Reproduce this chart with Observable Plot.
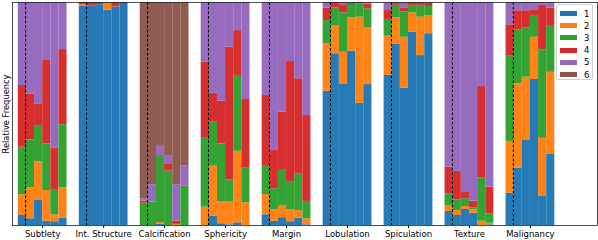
<!DOCTYPE html>
<html>
<head>
<meta charset="utf-8">
<script src="https://cdn.jsdelivr.net/npm/d3@7"></script>
<script src="https://cdn.jsdelivr.net/npm/@observablehq/plot@0.6"></script>
<style>
  html, body { margin: 0; padding: 0; background: #fff; }
  #wrap { position: relative; width: 598px; height: 240px; font-family: "DejaVu Sans", sans-serif; }
  #legend { position: absolute; left: 556px; top: 4px; width: 37px; height: 76px;
    border: 1px solid #d0d0d0; border-radius: 2px; background: rgba(255,255,255,0.85); box-sizing: border-box; }
  .row { position: absolute; left: 3px; height: 12px; display: flex; align-items: center; font-size: 8.5px; color: #000; }
  .sw { width: 17px; height: 5px; margin-right: 7px; }
  #ylab { position: absolute; left: 5.5px; top: 113.5px; transform: translate(-50%, -50%) rotate(-90deg);
    white-space: nowrap; font-size: 8.3px; color: #000; }
</style>
</head>
<body>
<div id="wrap"></div>
<script>
// ---- data ----
const attributes = ["Subtlety", "Int. Structure", "Calcification", "Sphericity", "Margin", "Lobulation", "Spiculation", "Texture", "Malignancy"];
const ratings = ["1", "2", "3", "4", "5", "6"];
const colors = ["#1f77b4", "#ff7f0e", "#2ca02c", "#d62728", "#9467bd", "#8c564b"];
const yLabel = "Relative Frequency";

// each attribute: 6 bars, each bar = relative frequency of ratings 1..6
const subtlety = [
  [0.045, 0.093, 0.213, 0.277, 0.372, 0],
  [0.030, 0.139, 0.215, 0.206, 0.410, 0],
  [0.115, 0.171, 0.162, 0.095, 0.457, 0],
  [0.019, 0.138, 0.209, 0.377, 0.257, 0],
  [0.017, 0.031, 0.113, 0.187, 0.652, 0],
  [0.033, 0.136, 0.283, 0.337, 0.211, 0]
];
const intStructure = [
  [0.985, 0.005, 0, 0.010, 0, 0],
  [0.985, 0, 0, 0.015, 0, 0],
  [0.990, 0, 0, 0.010, 0, 0],
  [0.965, 0.030, 0.005, 0, 0, 0],
  [0.980, 0, 0, 0.020, 0, 0],
  [1.000, 0, 0, 0, 0, 0]
];
const calcification = [
  [0, 0, 0.100, 0.010, 0.010, 0.880],
  [0, 0, 0.105, 0, 0.078, 0.817],
  [0.005, 0.008, 0.301, 0, 0.045, 0.641],
  [0, 0, 0.244, 0.033, 0.037, 0.686],
  [0, 0.005, 0, 0.015, 0.163, 0.817],
  [0, 0, 0.176, 0, 0.090, 0.734]
];
const sphericity = [
  [0, 0.082, 0.309, 0.341, 0.268, 0],
  [0.042, 0.224, 0.197, 0.130, 0.407, 0],
  [0.008, 0.097, 0.261, 0.191, 0.443, 0],
  [0.003, 0.102, 0.100, 0.595, 0.200, 0],
  [0.012, 0.321, 0.340, 0.201, 0.126, 0],
  [0, 0.102, 0.155, 0.308, 0.435, 0]
];
const margin = [
  [0.048, 0.091, 0.130, 0.314, 0.417, 0],
  [0.019, 0.051, 0.095, 0.171, 0.664, 0],
  [0.035, 0.055, 0.161, 0.257, 0.492, 0],
  [0.017, 0.053, 0.127, 0.538, 0.265, 0],
  [0.033, 0.034, 0.165, 0.426, 0.342, 0],
  [0.003, 0.027, 0.078, 0.385, 0.507, 0]
];
const lobulation = [
  [0.602, 0.213, 0.104, 0.056, 0.025, 0],
  [0.770, 0.124, 0.082, 0.024, 0, 0],
  [0.635, 0.142, 0.177, 0.036, 0.010, 0],
  [0.782, 0.149, 0.060, 0.006, 0.003, 0],
  [0.548, 0.386, 0.060, 0.006, 0, 0],
  [0.632, 0.253, 0.087, 0.021, 0.007, 0]
];
const spiculation = [
  [0.673, 0.176, 0.075, 0.040, 0.036, 0],
  [0.812, 0.119, 0.056, 0.008, 0.005, 0],
  [0.616, 0.228, 0.113, 0.019, 0.024, 0],
  [0.867, 0.087, 0.033, 0.013, 0, 0],
  [0.762, 0.172, 0.053, 0.013, 0, 0],
  [0.860, 0.080, 0.042, 0.014, 0.004, 0]
];
const texture = [
  [0.063, 0.024, 0.055, 0.119, 0.739, 0],
  [0.045, 0.022, 0.048, 0.128, 0.757, 0],
  [0.072, 0.013, 0.035, 0.028, 0.852, 0],
  [0.055, 0.015, 0.009, 0.030, 0.891, 0],
  [0, 0.019, 0.195, 0.409, 0.377, 0],
  [0.003, 0.007, 0.042, 0.120, 0.828, 0]
];
const malignancy = [
  [0.145, 0.232, 0.382, 0.141, 0.100, 0],
  [0.257, 0.378, 0.243, 0.085, 0.037, 0],
  [0.384, 0.281, 0.222, 0.076, 0.037, 0],
  [0.655, 0.189, 0.098, 0.025, 0.033, 0],
  [0.130, 0.261, 0.397, 0.199, 0.013, 0],
  [0.321, 0.366, 0.210, 0.078, 0.025, 0]
];
const series = [subtlety, intStructure, calcification, sphericity, margin, lobulation, spiculation, texture, malignancy];

// ---- build table ----
const groupWidth = 0.8;
const nBars = 6;
const bw = groupWidth / nBars;
const rows = [];
series.forEach((bars, g) => {
  bars.forEach((vals, j) => {
    let acc = 0;
    vals.forEach((v, k) => {
      if (v > 0) rows.push({g, j, rating: ratings[k], x1: g - groupWidth / 2 + j * bw, x2: g - groupWidth / 2 + (j + 1) * bw, y1: acc, y2: acc + v});
      acc += v;
    });
  });
});
const groupIdx = attributes.map((_, i) => i);

const chart = Plot.plot({
  width: 598,
  height: 240,
  marginLeft: 12,
  marginRight: 1,
  marginTop: 2,
  marginBottom: 15,
  style: {fontFamily: "DejaVu Sans, sans-serif", fontSize: "8.5px", color: "#000", background: "#fff"},
  x: {domain: [-0.495, 9.1]},
  y: {domain: [0, 1], axis: null},
  color: {domain: ratings, range: colors},
  marks: [
    Plot.rect(rows, {x1: "x1", x2: "x2", y1: "y1", y2: "y2", fill: "rating", fillOpacity: 0.97}),
    Plot.ruleX(groupIdx, {x: d => d - 0.28, stroke: "black", strokeWidth: 1, strokeDasharray: "3,1.6"}),
    Plot.axisX({ticks: groupIdx, tickFormat: i => attributes[i], tickSize: 3, tickPadding: 2.5, label: null, fontSize: 8.5}),
    Plot.frame({stroke: "#222", strokeWidth: 0.8})
  ]
});
const wrap = document.getElementById("wrap");
wrap.appendChild(chart);

// y label
const yl = document.createElement("div");
yl.id = "ylab";
yl.textContent = yLabel;
wrap.appendChild(yl);

// legend
const leg = document.createElement("div");
leg.id = "legend";
ratings.forEach((r, i) => {
  const row = document.createElement("div");
  row.className = "row";
  row.style.top = (2.5 + i * 12.2) + "px";
  const sw = document.createElement("div");
  sw.className = "sw";
  sw.style.background = colors[i];
  const lab = document.createElement("span");
  lab.textContent = r;
  row.appendChild(sw);
  row.appendChild(lab);
  leg.appendChild(row);
});
wrap.appendChild(leg);
</script>
</body>
</html>
